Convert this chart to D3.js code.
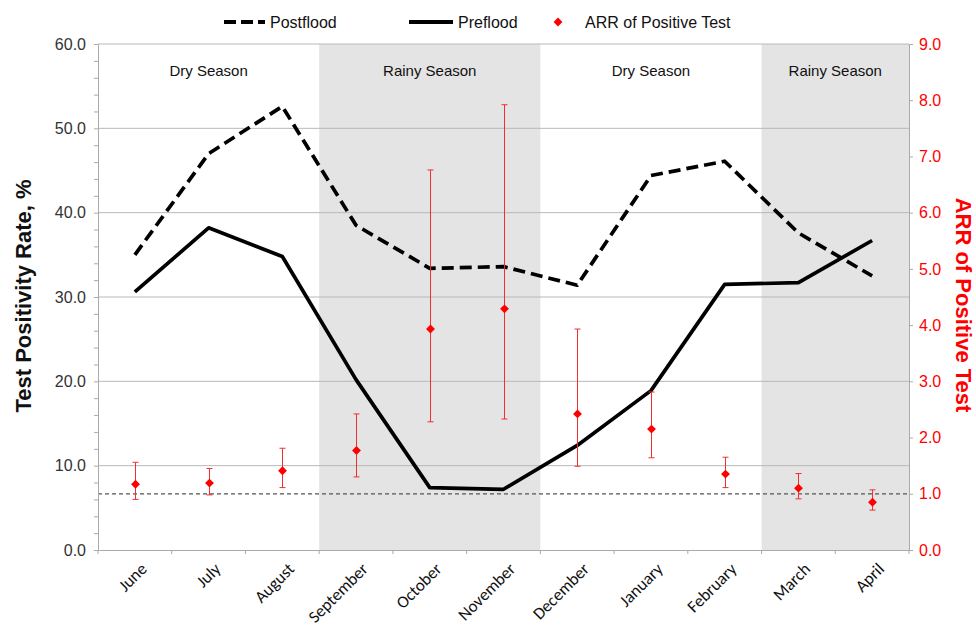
<!DOCTYPE html>
<html>
<head>
<meta charset="utf-8">
<script src="https://cdn.jsdelivr.net/npm/d3@7"></script>
<style>
body { margin: 0; background: #fff; }
text { font-family: "Liberation Sans", Arial, sans-serif; }
</style>
</head>
<body>
<svg id="chart" width="976" height="629"></svg>
<script>
// data
var months = ["June", "July", "August", "September", "October", "November", "December", "January", "February", "March", "April"];
var postflood = [35.0, 47.0, 52.6, 38.5, 33.4, 33.6, 31.4, 44.4, 46.1, 37.6, 32.5];
var preflood = [30.6, 38.2, 34.8, 20.2, 7.4, 7.2, 12.4, 18.9, 31.5, 31.7, 36.7];
var arr = [1.17, 1.19, 1.41, 1.77, 3.93, 4.29, 2.42, 2.15, 1.35, 1.10, 0.85];
var arrLow = [0.90, 0.98, 1.11, 1.30, 2.28, 2.33, 1.49, 1.64, 1.11, 0.91, 0.71];
var arrHigh = [1.56, 1.45, 1.81, 2.42, 6.76, 7.92, 3.93, 2.81, 1.65, 1.36, 1.07];
var seasons = [
	{name: "Dry Season", from: "June", to: "August", shade: false},
	{name: "Rainy Season", from: "September", to: "November", shade: true},
	{name: "Dry Season", from: "December", to: "February", shade: false},
	{name: "Rainy Season", from: "March", to: "April", shade: true}
];
var leftTicks = [0, 10, 20, 30, 40, 50, 60];
var rightTicks = [0, 1, 2, 3, 4, 5, 6, 7, 8, 9];

var svg = d3.select("#chart");
var x0 = 98, x1 = 909, yTop = 44, yBottom = 550;

var x = d3.scaleBand().domain(months).range([x0, x1]);
var y = d3.scaleLinear().domain([0, 60]).range([yBottom, yTop]);
var y2 = d3.scaleLinear().domain([0, 9]).range([yBottom, yTop]);
function cx(m) { return x(m) + x.bandwidth() / 2; }

// season shading
svg.append("g").selectAll("rect")
	.data(seasons.filter(function(s){ return s.shade; }))
	.enter().append("rect")
	.attr("x", function(s){ return x(s.from); })
	.attr("width", function(s){ return x(s.to) + x.bandwidth() - x(s.from); })
	.attr("y", yTop)
	.attr("height", yBottom - yTop)
	.attr("fill", "#e4e4e4");

// gridlines
svg.append("g").selectAll("line")
	.data(leftTicks.slice(1))
	.enter().append("line")
	.attr("x1", x0).attr("x2", x1)
	.attr("y1", function(d){ return y(d); })
	.attr("y2", function(d){ return y(d); })
	.attr("stroke", "#b8b8b8")
	.attr("stroke-width", 1);

// season labels
svg.append("g").selectAll("text")
	.data(seasons)
	.enter().append("text")
	.attr("x", function(s){ return (x(s.from) + x(s.to) + x.bandwidth()) / 2; })
	.attr("y", 76)
	.attr("text-anchor", "middle")
	.attr("font-size", 15)
	.attr("fill", "#111")
	.text(function(s){ return s.name; });

// reference line ARR = 1
svg.append("line")
	.attr("x1", x0).attr("x2", x1)
	.attr("y1", y2(1)).attr("y2", y2(1))
	.attr("stroke", "#555")
	.attr("stroke-width", 1.3)
	.attr("stroke-dasharray", "4,3");

// axes
var yAxis = d3.axisLeft(y).tickValues(leftTicks).tickFormat(d3.format(".1f")).tickSize(0).tickPadding(12);
var gy = svg.append("g").attr("transform", "translate(" + x0 + ",0)").call(yAxis);
gy.select(".domain").attr("stroke", "#aaa");
gy.selectAll("text").attr("font-size", 16).attr("fill", "#333").attr("font-family", "Liberation Sans, Arial, sans-serif");
var yMinor = d3.axisLeft(y).tickValues(d3.range(0, 61, 2)).tickFormat("").tickSize(4);
var gym = svg.append("g").attr("transform", "translate(" + x0 + ",0)").call(yMinor);
gym.select(".domain").remove();
gym.selectAll("line").attr("stroke", "#aaa");

var y2Axis = d3.axisRight(y2).tickValues(rightTicks).tickFormat(d3.format(".1f")).tickSize(4).tickPadding(6);
var gy2 = svg.append("g").attr("transform", "translate(" + x1 + ",0)").call(y2Axis);
gy2.select(".domain").attr("stroke", "#aaa");
gy2.selectAll("line").attr("stroke", "#aaa");
gy2.selectAll("text").attr("font-size", 16).attr("fill", "#ff0000").attr("font-family", "Liberation Sans, Arial, sans-serif");

var xAxis = d3.axisBottom(x).tickSize(0).tickFormat("");
var gx = svg.append("g").attr("transform", "translate(0," + yBottom + ")").call(xAxis);
gx.select(".domain").attr("stroke", "#aaa");
svg.append("g").selectAll("line")
	.data(months.concat(["end"]))
	.enter().append("line")
	.attr("x1", function(d, i){ return x0 + i * x.bandwidth(); })
	.attr("x2", function(d, i){ return x0 + i * x.bandwidth(); })
	.attr("y1", yBottom).attr("y2", yBottom + 4)
	.attr("stroke", "#aaa");
svg.append("g").selectAll("text")
	.data(months)
	.enter().append("text")
	.attr("transform", function(d){ return "translate(" + (cx(d) + 13) + "," + (yBottom + 20) + ") rotate(-45)"; })
	.attr("text-anchor", "end")
	.attr("font-size", 17)
	.attr("fill", "#111")
	.style("font-family", "Carlito, 'Liberation Sans', Arial, sans-serif")
	.text(function(d){ return d; });

// axis titles
svg.append("text")
	.attr("transform", "translate(31," + ((yTop + yBottom) / 2 - 1) + ") rotate(-90)")
	.attr("text-anchor", "middle")
	.attr("font-size", 22)
	.attr("font-weight", "bold")
	.attr("fill", "#111")
	.text("Test Positivity Rate, %");
svg.append("text")
	.attr("transform", "translate(956," + ((yTop + yBottom) / 2 + 8) + ") rotate(90)")
	.attr("text-anchor", "middle")
	.attr("font-size", 22)
	.attr("font-weight", "bold")
	.attr("fill", "#ff0000")
	.text("ARR of Positive Test");

// lines
var line = d3.line()
	.x(function(d, i){ return cx(months[i]); })
	.y(function(d){ return y(d); });
svg.append("path")
	.datum(preflood)
	.attr("d", line)
	.attr("fill", "none")
	.attr("stroke", "#000")
	.attr("stroke-width", 3.7)
	.attr("stroke-linejoin", "round");
svg.append("path")
	.datum(postflood)
	.attr("d", line)
	.attr("fill", "none")
	.attr("stroke", "#000")
	.attr("stroke-width", 3.7)
	.attr("stroke-dasharray", "12,6")
	.attr("stroke-linejoin", "round");

// ARR error bars and points
var eb = svg.append("g").attr("stroke", "#f03030").attr("stroke-width", 1);
months.forEach(function(m, i) {
	var xc = Math.round(cx(m)) + 0.5;
	eb.append("line").attr("x1", xc).attr("x2", xc).attr("y1", y2(arrLow[i])).attr("y2", y2(arrHigh[i]));
	eb.append("line").attr("x1", xc - 3).attr("x2", xc + 3).attr("y1", y2(arrLow[i])).attr("y2", y2(arrLow[i]));
	eb.append("line").attr("x1", xc - 3).attr("x2", xc + 3).attr("y1", y2(arrHigh[i])).attr("y2", y2(arrHigh[i]));
});
var diamond = d3.symbol().type(d3.symbolDiamond2).size(50);
svg.append("g").selectAll("path")
	.data(arr)
	.enter().append("path")
	.attr("d", diamond)
	.attr("transform", function(d, i){ return "translate(" + (Math.round(cx(months[i])) + 0.5) + "," + y2(d) + ")"; })
	.attr("fill", "#ff0000");

// legend
var lg = svg.append("g");
lg.append("line").attr("x1", 224).attr("x2", 265).attr("y1", 22).attr("y2", 22)
	.attr("stroke", "#000").attr("stroke-width", 4).attr("stroke-dasharray", "12,5");
lg.append("text").attr("x", 270).attr("y", 28).attr("font-size", 16).attr("fill", "#111").text("Postflood");
lg.append("line").attr("x1", 409).attr("x2", 453).attr("y1", 22).attr("y2", 22)
	.attr("stroke", "#000").attr("stroke-width", 4);
lg.append("text").attr("x", 458).attr("y", 28).attr("font-size", 16).attr("fill", "#111").text("Preflood");
lg.append("path").attr("d", diamond).attr("transform", "translate(558,22)").attr("fill", "#ff0000");
lg.append("text").attr("x", 585).attr("y", 28).attr("font-size", 16).attr("fill", "#111").text("ARR of Positive Test");
</script>
</body>
</html>
